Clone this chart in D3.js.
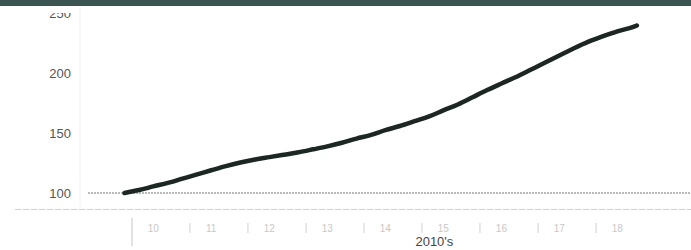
<!DOCTYPE html>
<html>
<head>
<meta charset="utf-8">
<script src="https://cdn.jsdelivr.net/npm/d3@7"></script>
<style>
  body { margin: 0; background: #fff; }
  svg { display: block; font-family: Arial, "Liberation Sans", sans-serif; }
</style>
</head>
<body>
<div id="chart"></div>
<script>
// sample dates (mid-month, roughly quarterly) and index values
let dates = [
  "2009-11-15", "2010-02-15", "2010-05-15", "2010-08-15", "2010-11-15",
  "2011-02-15", "2011-05-15", "2011-08-15", "2011-11-15",
  "2012-02-15", "2012-05-15", "2012-08-15", "2012-11-15",
  "2013-02-15", "2013-05-15", "2013-08-15", "2013-11-15",
  "2014-02-15", "2014-05-15", "2014-08-15", "2014-11-15",
  "2015-02-15", "2015-05-15", "2015-08-15", "2015-11-15",
  "2016-02-15", "2016-05-15", "2016-08-15", "2016-11-15",
  "2017-02-15", "2017-05-15", "2017-08-15", "2017-11-15",
  "2018-02-15", "2018-05-15", "2018-08-15", "2018-09-15"
];
let values = [
  100, 102.5, 105.5, 108.5, 112,
  115.5, 119, 122.5, 125.5,
  128, 130, 132, 134,
  136.5, 139, 142, 145.5,
  148.5, 152.5, 156, 160,
  164, 169, 174, 180,
  186, 191.5, 197, 203,
  209, 215, 221, 226.5,
  231, 235, 238.5, 240
];
let yTicks = [100, 150, 200, 250];
let yearLabels = [2010, 2011, 2012, 2013, 2014, 2015, 2016, 2017, 2018];
let yearTicks = [2011, 2012, 2013, 2014, 2015, 2016, 2017, 2018];
let decadeLabel = "2010's";
let baseValue = 100;

let width = 691, height = 250;
let parse = d3.timeParse("%Y-%m-%d");
let data = dates.map((d, i) => ({ date: parse(d), value: values[i] }));

let svg = d3.select("#chart").append("svg")
  .attr("width", width)
  .attr("height", height);

// 2010 sits at x=132, about 58px per year
let x = d3.scaleTime()
  .domain([new Date(2010, 0, 1), new Date(2020, 0, 1)])
  .range([132, 712]);

let y = d3.scaleLinear()
  .domain([100, 250])
  .range([193, 13.5]);

// faint y axis line
svg.append("line")
  .attr("x1", 80).attr("x2", 80)
  .attr("y1", 8).attr("y2", 206)
  .attr("stroke", "#f0f0f0")
  .attr("stroke-width", 1);

// y labels (the 250 is half lost under the top band in the scan)
svg.append("clipPath").attr("id", "topclip")
  .append("rect").attr("x", 0).attr("y", 13).attr("width", width).attr("height", height);

svg.append("g")
  .selectAll("text")
  .data(yTicks)
  .enter().append("text")
  .attr("x", 71)
  .attr("y", d => y(d))
  .attr("dy", "0.36em")
  .attr("text-anchor", "end")
  .attr("font-size", 13)
  .attr("fill", "#555")
  .attr("clip-path", d => d == 250 ? "url(#topclip)" : null)
  .text(d => d);

// dotted base line at 100
svg.append("line")
  .attr("x1", 88).attr("x2", width)
  .attr("y1", y(baseValue)).attr("y2", y(baseValue))
  .attr("stroke", "#777")
  .attr("stroke-width", 1)
  .attr("stroke-dasharray", "2,1");

// faint bottom rule
svg.append("line")
  .attr("x1", 15).attr("x2", width)
  .attr("y1", 209.5).attr("y2", 209.5)
  .attr("stroke", "#cfcfcf")
  .attr("stroke-width", 1)
  .attr("stroke-dasharray", "6,2");

// x axis: tall marker at 2010, short ticks at year starts, labels inside each year
svg.append("line")
  .attr("x1", x(new Date(2010, 0, 1))).attr("x2", x(new Date(2010, 0, 1)))
  .attr("y1", 218).attr("y2", 246)
  .attr("stroke", "#c4c4c4")
  .attr("stroke-width", 1);

svg.append("g")
  .selectAll("line")
  .data(yearTicks)
  .enter().append("line")
  .attr("x1", d => x(new Date(d, 0, 1)))
  .attr("x2", d => x(new Date(d, 0, 1)))
  .attr("y1", 223).attr("y2", 233)
  .attr("stroke", "#d0d0d0")
  .attr("stroke-width", 1);

svg.append("g")
  .selectAll("text")
  .data(yearLabels)
  .enter().append("text")
  .attr("x", d => x(new Date(d, 4, 15)))
  .attr("y", 232)
  .attr("text-anchor", "middle")
  .attr("font-size", 10)
  .attr("fill", "#c8c8c8")
  .text(d => String(d).slice(2));

svg.append("text")
  .attr("x", x(new Date(2015, 2, 20)))
  .attr("y", 246)
  .attr("text-anchor", "middle")
  .attr("font-size", 13)
  .attr("fill", "#444")
  .text(decadeLabel);

// the series
let line = d3.line()
  .x(d => x(d.date))
  .y(d => y(d.value))
  .curve(d3.curveMonotoneX);

svg.append("path")
  .datum(data)
  .attr("fill", "none")
  .attr("stroke", "#1c2622")
  .attr("stroke-width", 4.5)
  .attr("stroke-linecap", "round")
  .attr("stroke-linejoin", "round")
  .attr("d", line);

// dark band along the top edge
svg.append("rect")
  .attr("x", 0).attr("y", 0)
  .attr("width", width).attr("height", 6)
  .attr("fill", "#3b5552");
</script>
</body>
</html>
